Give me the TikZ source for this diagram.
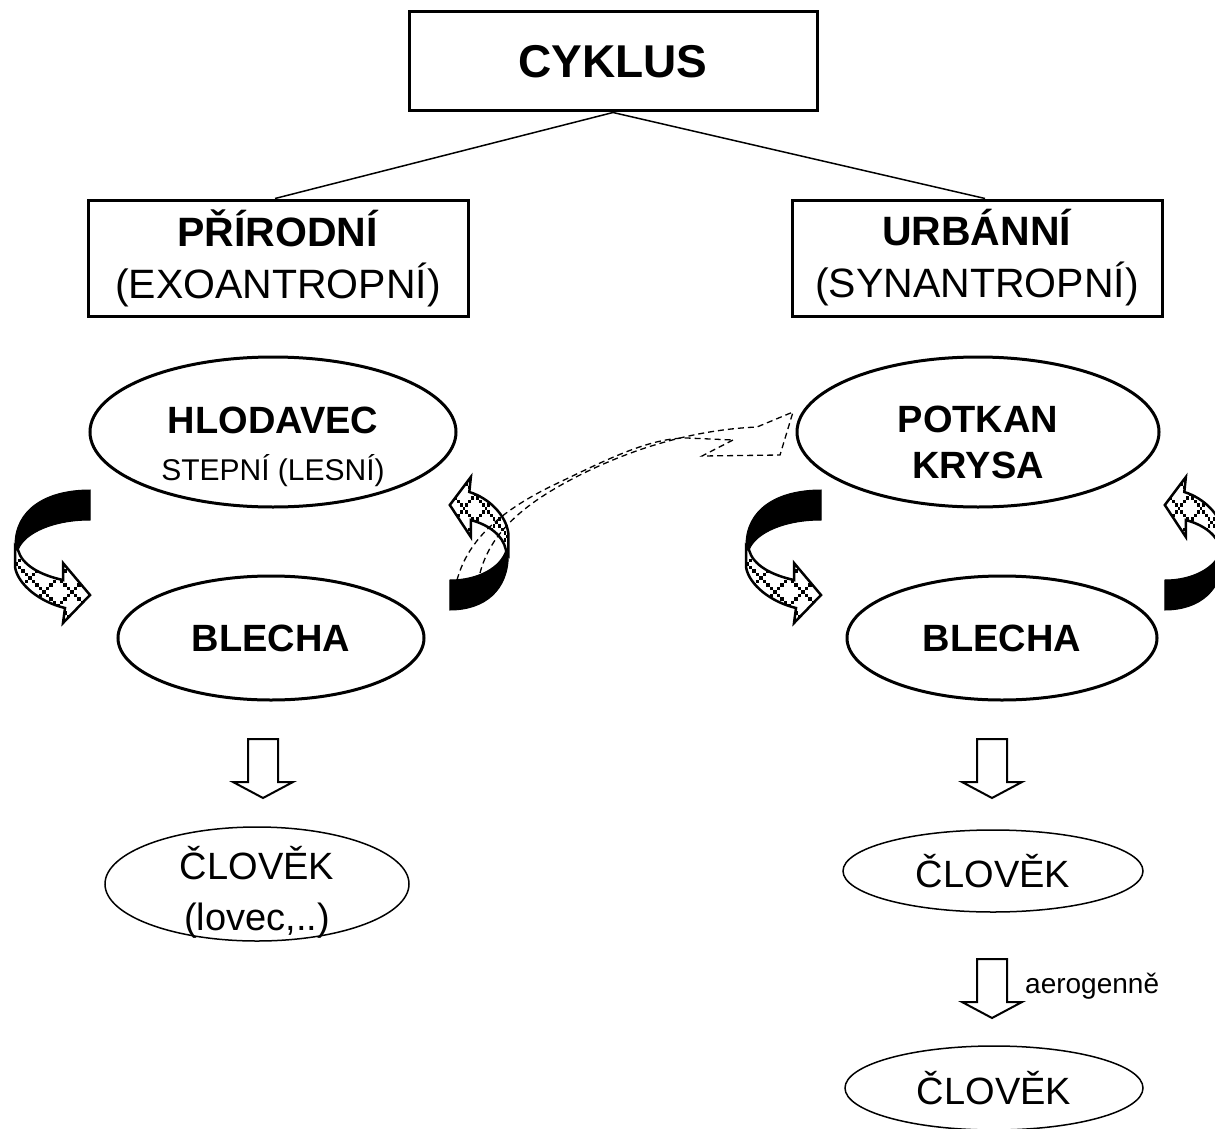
\documentclass[tikz,border=0pt]{standalone}
\usepackage{fontspec}
\setmainfont{Liberation Sans}
\usepackage{tikz}
\usetikzlibrary{shapes.geometric}

% front face of the twisted band arrow (head included)
\newcommand{\ribbonfront}{(15,76) -- (15,97) .. controls (18,115) and (40,132) .. (65,138) -- (63,153) -- (90,125) -- (63,93) -- (63,110) .. controls (40,105) and (22,95) .. (18,80) -- cycle}

\tikzset{
  ribbonarrow/.pic={
    \begin{scope}[shift={(-50,-86.5)}]
      \filldraw[line width=1pt] (90,20) .. controls (45,20) and (15,40) .. (15,75) -- (18,80) .. controls (25,62) and (55,50) .. (90,50) -- cycle;
      \fill[white] \ribbonfront;
      \begin{scope}
        \clip \ribbonfront;
        \foreach \a in {-140,-112,...,120}{
          \foreach \t in {0,...,30}{
            \fill (\a+3.5*\t,50+3.5*\t) rectangle ++(3.5,3.5);
          }
        }
        \foreach \a in {0,28,...,260}{
          \foreach \t in {0,...,30}{
            \fill (\a-3.5*\t,50+3.5*\t) rectangle ++(3.5,3.5);
          }
        }
      \end{scope}
      \draw[line width=2.5pt, line join=miter] \ribbonfront;
    \end{scope}
  },
  blockdown/.pic={
    \draw[line width=2pt, fill=white] (-15,0) -- (15,0) -- (15,43) -- (30,43) -- (0,59) -- (-30,43) -- (-15,43) -- cycle;
  }
}

\begin{document}
\begin{tikzpicture}[x=1pt, y=-1pt,
    box/.style={draw, line width=3pt, inner sep=0pt, align=center},
    oval/.style={draw, ellipse, line width=3pt, inner sep=0pt, align=center},
    thinoval/.style={draw, ellipse, line width=1.5pt, inner sep=0pt, align=center},
    dashline/.style={line width=1.3pt, dash pattern=on 6pt off 4pt},
    ]
    \path[use as bounding box, fill=white] (0,0) rectangle (1215,1129);
    \clip (0,0) rectangle (1215,1129);

    \node[box, minimum width=408pt, minimum height=99pt,
        font=\fontsize{46}{52}\selectfont\bfseries] (cyklus) at (613,61.5) {CYKLUS};

    \node[box, below of=cyklus, node distance=196.5pt, xshift=-335pt,
        minimum width=380pt, minimum height=116pt,
        font=\fontsize{41}{52}\selectfont] (prirodni) {\textbf{PŘÍRODNÍ}\\(EXOANTROPNÍ)};
    \node[box, right of=prirodni, node distance=699pt,
        minimum width=370pt, minimum height=116pt,
        font=\fontsize{41}{52}\selectfont] (urbanni) {\textbf{URBÁNNÍ}\\(SYNANTROPNÍ)};

    \node[oval, below of=prirodni, node distance=174pt, xshift=-5pt,
        minimum width=366pt, minimum height=150pt, text height=104pt, inner ysep=-4pt,
        font=\fontsize{38}{47}\selectfont] (hlodavec)
        {\textbf{HLODAVEC}\\{\fontsize{30}{36}\selectfont STEPNÍ (LESNÍ)}};
    \node[oval, below of=urbanni, node distance=174pt, xshift=1pt,
        minimum width=362pt, minimum height=150pt, text height=93pt,
        font=\fontsize{38}{46}\selectfont\bfseries] (potkan) {POTKAN\\KRYSA};

    \node[oval, below of=hlodavec, node distance=206pt, xshift=-2pt,
        minimum width=306pt, minimum height=124pt,
        font=\fontsize{38}{46}\selectfont\bfseries] (blecha_l) {BLECHA};
    \node[oval, below of=potkan, node distance=206pt, xshift=24pt,
        minimum width=310pt, minimum height=124pt,
        font=\fontsize{38}{46}\selectfont\bfseries] (blecha_r) {BLECHA};

    \node[thinoval, below of=blecha_l, node distance=246pt, xshift=-14pt,
        minimum width=304pt, minimum height=114pt, text height=101pt, inner ysep=-16pt,
        font=\fontsize{38}{51}\selectfont] (clovek_l) {ČLOVĚK\\(lovec,..)};
    \node[thinoval, below of=blecha_r, node distance=233pt, xshift=-9pt,
        minimum width=300pt, minimum height=82pt,
        font=\fontsize{38}{46}\selectfont] (clovek_r1) {ČLOVĚK};
    \node[thinoval, below of=clovek_r1, node distance=217pt, xshift=1pt,
        minimum width=298pt, minimum height=84pt,
        font=\fontsize{38}{46}\selectfont] (clovek_r2) {ČLOVĚK};

    \draw[line width=1.5pt] (cyklus.south) -- ([xshift=-3pt]prirodni.north);
    \draw[line width=1.5pt] (cyklus.south) -- ([xshift=8pt]urbanni.north);

    % twisted band arrows
    \pic at (50,556.5) {ribbonarrow};
    \pic[rotate=180, xscale=0.78] at (481,543.5) {ribbonarrow};
    \pic at (781,556.5) {ribbonarrow};
    \pic[rotate=180, xscale=0.78] at (1196,543.5) {ribbonarrow};

    % dashed band from the left cycle over to the rat
    \draw[dashline] (480,573) .. controls (490,535) and (520,505) .. (580,475) .. controls (630,450) and (690,430) .. (757,427) -- (793,412) -- (780,455) -- (702,456) -- (733,440);
    \draw[dashline] (457,580) .. controls (468,540) and (500,510) .. (560,482) .. controls (610,458) and (650,438) .. (687,438) -- (733,440);

    \pic at (263,739) {blockdown};
    \pic at (992,739) {blockdown};
    \pic at (992,959) {blockdown};
    \node[anchor=base west, inner sep=0pt, font=\fontsize{28}{34}\selectfont] (aero) at (1025,993) {aerogenně};
\end{tikzpicture}
\end{document}
